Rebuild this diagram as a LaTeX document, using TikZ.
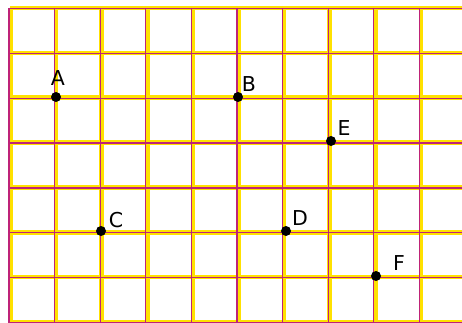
\documentclass[tikz,border=0pt]{standalone}
\usepackage{fontspec}
\setmainfont{DejaVu Sans}
\usetikzlibrary{calc}

\definecolor{gridyel}{RGB}{255,225,0}
\definecolor{gridmag}{RGB}{190,35,120}

\begin{document}
\begin{tikzpicture}[x=1pt, y=-1pt,
  every node/.style={circle},
  dot/.style={fill=black, inner sep=0pt, minimum size=10pt},
  lab/.style={inner sep=0pt, font=\fontsize{20.5}{20.5}\selectfont}]

  \useasboundingbox (0,0) rectangle (462,323);
  \fill[white] (0,0) rectangle (462,323);

  % yellow bands
  \foreach \i in {0,...,9}
    \draw[gridyel, line width=4.5pt] ({10.5+45.6*\i}, 8) -- ({10.5+45.6*\i}, 323);
  \foreach \j in {0,...,7}
    \draw[gridyel, line width=4.5pt] (10, {8+44.85*\j}) -- (462, {8+44.85*\j});

  % magenta lines
  \foreach \i in {0,...,9}
    \draw[gridmag, line width=1.2pt] ({9+45.6*\i}, 8) -- ({9+45.6*\i}, 323);
  \foreach \j in {0,...,7}
    \draw[gridmag, line width=1.2pt] (10, {8.5+44.85*\j}) -- (462, {8.5+44.85*\j});

  \node[dot] at (56, 97) (A) {};
  \node[dot] at (238, 97) (B) {};
  \node[dot] at (101, 231) (C) {};
  \node[dot] at (286, 231) (D) {};
  \node[dot] at (331, 141) (E) {};
  \node[dot] at (376, 276) (F) {};

  \node[lab] at ($(A)+(2,-19)$) (la) {A};
  \node[lab] at ($(B)+(11,-13)$) (lb) {B};
  \node[lab] at ($(C)+(15,-11)$) (lc) {C};
  \node[lab] at ($(D)+(14,-13)$) (ld) {D};
  \node[lab] at ($(E)+(13,-13)$) (le) {E};
  \node[lab] at ($(F)+(23,-13)$) (lf) {F};

\end{tikzpicture}
\end{document}
